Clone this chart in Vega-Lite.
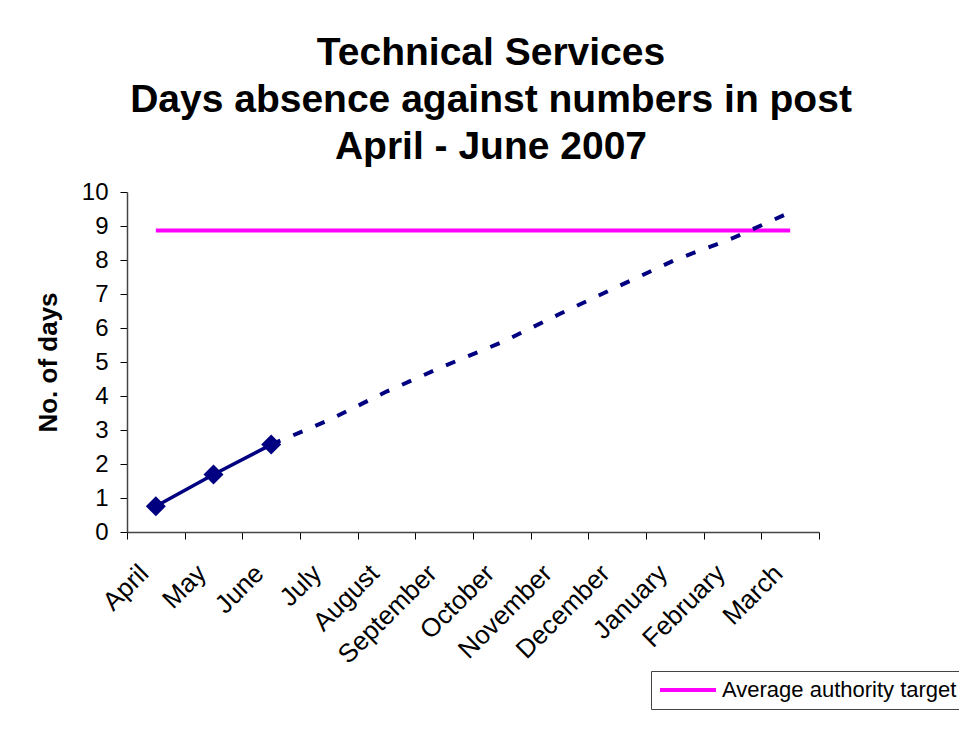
{
  "$schema": "https://vega.github.io/schema/vega-lite/v6.json",
  "width": 692,
  "height": 340,
  "autosize": {"type": "none"},
  "padding": {"left": 127, "top": 192, "right": 140, "bottom": 199},
  "background": "white",
  "title": {
    "text": ["Technical Services", "Days absence against numbers in post", "April - June 2007"],
    "font": "Liberation Sans",
    "fontSize": 39,
    "fontWeight": "bold",
    "color": "black",
    "lineHeight": 47,
    "anchor": "middle",
    "dx": 18,
    "offset": 13
  },
  "data": {
    "values": [
      {"month": "April", "actual": 0.755, "projection": null, "target": 8.87},
      {"month": "May", "actual": 1.69, "projection": null, "target": 8.87},
      {"month": "June", "actual": 2.57, "projection": 2.57, "target": 8.87},
      {"month": "July", "actual": null, "projection": 3.29, "target": 8.87},
      {"month": "August", "actual": null, "projection": 4.13, "target": 8.87},
      {"month": "September", "actual": null, "projection": 4.88, "target": 8.87},
      {"month": "October", "actual": null, "projection": 5.58, "target": 8.87},
      {"month": "November", "actual": null, "projection": 6.41, "target": 8.87},
      {"month": "December", "actual": null, "projection": 7.21, "target": 8.87},
      {"month": "January", "actual": null, "projection": 8.0, "target": 8.87},
      {"month": "February", "actual": null, "projection": 8.64, "target": 8.87},
      {"month": "March", "actual": null, "projection": 9.4, "target": 8.87}
    ]
  },
  "encoding": {
    "x": {
      "field": "month",
      "type": "ordinal",
      "sort": ["April", "May", "June", "July", "August", "September", "October", "November", "December", "January", "February", "March"],
      "scale": {"type": "band", "paddingInner": 0, "paddingOuter": 0},
      "axis": {
        "title": null,
        "tickBand": "extent",
        "labelAngle": -45,
        "labelAlign": "right",
        "labelBaseline": "middle",
        "labelOffset": -12,
        "labelOverlap": false,
        "labelFont": "Liberation Sans",
        "labelFontSize": 26,
        "labelColor": "black",
        "labelPadding": 30,
        "tickSize": 7,
        "tickColor": "black",
        "domainColor": "#444",
        "domainWidth": 1.5,
        "grid": false
      }
    },
    "y": {
      "type": "quantitative",
      "scale": {"domain": [0, 10], "nice": false},
      "axis": {
        "title": "No. of days",
        "titleFont": "Liberation Sans",
        "titleFontSize": 26,
        "titleFontWeight": "bold",
        "titleColor": "black",
        "titlePadding": 20,
        "values": [0, 1, 2, 3, 4, 5, 6, 7, 8, 9, 10],
        "labelOverlap": false,
        "labelFont": "Liberation Sans",
        "labelFontSize": 24,
        "labelColor": "black",
        "labelPadding": 12,
        "tickSize": 7,
        "tickColor": "black",
        "domainColor": "#444",
        "domainWidth": 1.5,
        "grid": false
      }
    }
  },
  "layer": [
    {
      "mark": {"type": "line", "strokeWidth": 4, "strokeCap": "butt"},
      "encoding": {
        "y": {"field": "target"},
        "color": {
          "datum": "Average authority target",
          "type": "nominal",
          "scale": {"range": ["#FF00FF"]},
          "legend": {
            "title": null,
            "orient": "none",
            "legendX": 524,
            "legendY": 479,
            "fillColor": "white",
            "strokeColor": "#444",
            "padding": 7,
            "symbolType": "stroke",
            "symbolSize": 3136,
            "symbolStrokeWidth": 4,
            "clipHeight": 24,
            "labelLimit": 500,
            "labelFont": "Liberation Sans",
            "labelFontSize": 22,
            "labelColor": "black",
            "labelOffset": 4
          }
        }
      }
    },
    {
      "mark": {"type": "line", "color": "#000080", "strokeWidth": 4, "strokeDash": [10, 14], "strokeCap": "butt"},
      "encoding": {
        "y": {"field": "projection"}
      }
    },
    {
      "mark": {
        "type": "line",
        "color": "#000080",
        "strokeWidth": 3.5,
        "point": {"shape": "diamond", "size": 400, "filled": true, "color": "#000080", "opacity": 1}
      },
      "encoding": {
        "y": {"field": "actual"}
      }
    }
  ],
  "config": {
    "view": {"stroke": null},
    "axisY": {"tickCount": 11, "labelOverlap": false}
  }
}
